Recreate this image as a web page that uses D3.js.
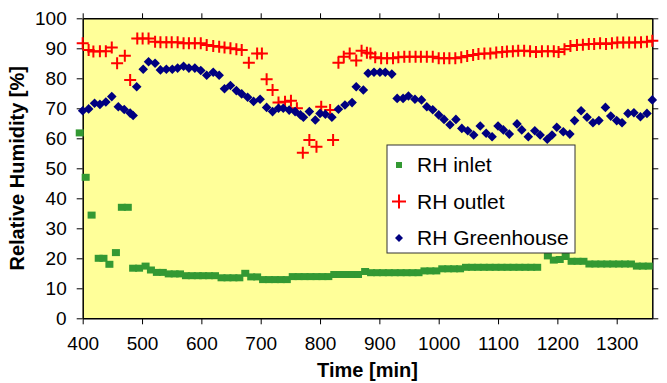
<!DOCTYPE html>
<html>
<head>
<meta charset="utf-8">
<script src="https://cdn.jsdelivr.net/npm/d3@7"></script>
<style>
  body { margin: 0; background: #fff; }
  text { font-family: Arial, "Liberation Sans", sans-serif; }
</style>
</head>
<body>
<div id="chart"></div>
<script>
// tick labels
const xTicks = [400, 500, 600, 700, 800, 900, 1000, 1100, 1200, 1300];
const yTicks = [0, 10, 20, 30, 40, 50, 60, 70, 80, 90, 100];
const seriesNames = ["RH inlet", "RH outlet", "RH Greenhouse"];

// RH inlet
const inletTime = [395, 405, 415, 427, 435, 445, 456, 466, 476, 485, 495, 506, 515, 525, 535, 545, 555, 564,
  574, 584, 594, 603, 613, 623, 634, 644, 654, 664, 674, 684, 694, 704, 714, 724, 734, 744, 754, 764, 774,
  784, 794, 804, 814, 824, 834, 844, 854, 864, 876, 886, 896, 906, 916, 926, 936, 946, 956, 966, 976, 986,
  996, 1006, 1016, 1026, 1036, 1046, 1056, 1066, 1076, 1086, 1096, 1106, 1116, 1126, 1136, 1146, 1156, 1166,
  1184, 1194, 1204, 1214, 1224, 1234, 1244, 1254, 1264, 1274, 1284, 1294, 1304, 1314, 1324, 1334, 1344, 1354];
const inletRH = [61.8, 47, 34.4, 20, 20, 18, 21.9, 37, 37, 16.7, 16.7, 17.4, 16.1, 15.3, 15.3, 14.8, 14.8, 14.8,
  14.2, 14.2, 14.2, 14.2, 14.2, 14.2, 13.5, 13.5, 13.5, 13.5, 15, 13.8, 13.8, 12.9, 12.9, 12.9, 12.9, 12.9, 13.9, 13.9, 13.9,
  13.9, 13.9, 13.9, 13.9, 14.6, 14.6, 14.6, 14.6, 14.6, 15.6, 15.2, 15.2, 15.2, 15.2, 15.2, 15.2, 15.2, 15.2, 15.2, 15.8, 15.8,
  15.8, 16.5, 16.5, 16.5, 16.5, 17, 17, 17, 17, 17, 17, 17, 17, 17, 17, 17, 17, 17,
  20.8, 19.4, 19.6, 20.6, 19, 19, 19, 18.1, 18.1, 18.1, 18.1, 18.1, 18.1, 18.1, 18.1, 17.4, 17.4, 17.4];

// RH outlet
const outletTime = [400, 410, 418, 429, 439, 449, 458, 471, 480, 492, 501, 511, 522, 531, 541, 550, 560, 570,
  579, 589, 599, 609, 620, 630, 639, 649, 659, 668, 680, 694, 702, 710, 720, 730, 741, 751, 761, 771, 782,
  794, 802, 817, 822, 831, 840, 850, 861, 870, 879, 885, 893, 903, 913, 923, 932, 942, 951, 961, 970, 980,
  990, 1000, 1009, 1018, 1028, 1038, 1048, 1058, 1067, 1077, 1087, 1097, 1107, 1115, 1125, 1134, 1144, 1154,
  1164, 1174, 1184, 1194, 1202, 1212, 1222, 1233, 1243, 1253, 1262, 1272, 1282, 1292, 1301, 1311, 1321, 1331,
  1341, 1351, 1360];
const outletRH = [91.7, 89.4, 88.9, 89, 89, 90.3, 85, 87.5, 79.4, 93.3, 93.3, 93.3, 92.2, 92, 92, 92, 92, 91.7,
  91.7, 91.7, 91.7, 91.1, 90.8, 90.5, 90.3, 90, 89.7, 89.4, 85.2, 88.3, 88.3, 79.7, 76.1, 71.9, 72.2, 72.5, 70, 55.2, 59.4,
  57.2, 70.5, 69.4, 59.4, 85.2, 87.2, 88.3, 85.9, 89.2, 88.5, 88.3, 87, 86.7, 86.7, 86.7, 87, 87.2, 87.2, 87.2, 87.2, 87.2,
  87.2, 86.7, 86.7, 86.7, 86.7, 87, 87.4, 87.8, 88.1, 88.3, 88.3, 88.6, 88.8, 88.9, 89, 89.2, 89.2, 89,
  88.8, 89, 89, 89, 88.8, 89.7, 90.8, 91.1, 91.2, 91.4, 91.4, 91.7, 91.4, 91.7, 91.9, 91.9, 91.9, 91.9,
  92, 92.2, 92.5];

// RH Greenhouse
const houseTime = [400, 410, 420, 429, 439, 449, 460, 470, 480, 485, 491, 502, 511, 522, 531, 541, 551, 560,
  570, 579, 589, 599, 609, 620, 630, 639, 649, 659, 668, 678, 688, 699, 710, 720, 730, 738, 748, 758, 767,
  772, 782, 792, 800, 809, 820, 831, 842, 854, 861, 873, 881, 891, 901, 910, 921, 930, 940, 949, 960, 971,
  980, 990, 1000, 1009, 1019, 1029, 1039, 1049, 1059, 1070, 1080, 1090, 1100, 1109, 1119, 1132, 1140, 1151,
  1162, 1171, 1183, 1191, 1199, 1210, 1221, 1229, 1240, 1250, 1260, 1270, 1281, 1290, 1300, 1309, 1319, 1329,
  1340, 1351, 1360];
const houseRH = [69.2, 69.8, 71.7, 71.3, 72.1, 73.9, 70.5, 69.6, 68.4, 67.6, 77.2, 83, 85.5, 85, 82.8, 83, 83, 83.4,
  84, 83.4, 83.4, 82.6, 81, 82, 81, 76.5, 77.6, 75.9, 74.8, 73.7, 72.3, 73, 70.3, 68.9, 70, 70, 69.4, 68.9, 67.8,
  67, 68.9, 66.1, 68.3, 68, 67, 69.7, 71.1, 71.9, 77.2, 76.1, 81.7, 82, 82, 82, 81.4, 73.3, 73.3, 74.1, 73, 72.8,
  70.5, 69.5, 67.8, 66.3, 64.5, 66.3, 63.3, 62.5, 61.1, 64.1, 61.7, 60.5, 64.1, 62.8, 61.4, 64.8, 62.8, 60.5,
  62.5, 61.1, 59.7, 61.1, 63.7, 62.2, 61.4, 65.9, 69.2, 67, 65.2, 65.9, 70.3, 67.4, 65.9, 65.2, 68.3, 68.5,
  67.2, 68.3, 72.8];

const colors = { inlet: "#339933", outlet: "#ff0000", house: "#000080" };

const width = 667, height = 383;
const plot = { left: 82.7, right: 652.3, top: 18.3, bottom: 318.3 };

const svg = d3.select("#chart").append("svg")
    .attr("width", width)
    .attr("height", height);

const x = d3.scaleLinear().domain([400, 1360]).range([plot.left, plot.right]);
const y = d3.scaleLinear().domain([0, 100]).range([plot.bottom, plot.top]);

// plot area background
svg.append("rect")
    .attr("x", plot.left).attr("y", plot.top)
    .attr("width", plot.right - plot.left)
    .attr("height", plot.bottom - plot.top)
    .attr("fill", "#ffff99");

function styleAxis(g, fontSize) {
  g.selectAll("path").attr("stroke", "#000").attr("stroke-width", 1.5);
  g.selectAll("line").attr("stroke", "#000").attr("stroke-width", 1);
  g.selectAll("text")
      .attr("fill", "#000")
      .attr("font-size", fontSize)
      .attr("font-family", "Arial, 'Liberation Sans', sans-serif");
}

// bottom axis
svg.append("g")
    .attr("transform", "translate(0," + plot.bottom + ")")
    .call(d3.axisBottom(x).tickValues(xTicks).tickSize(6).tickSizeOuter(0).tickPadding(12)
      .tickFormat(d3.format("d")))
    .call(g => styleAxis(g, 19));

// top axis, ticks only
svg.append("g")
    .attr("transform", "translate(0," + plot.top + ")")
    .call(d3.axisTop(x).tickValues(xTicks).tickSize(5).tickSizeOuter(0).tickFormat(""))
    .call(g => styleAxis(g, 0));

// left axis
svg.append("g")
    .attr("transform", "translate(" + plot.left + ",0)")
    .call(d3.axisLeft(y).tickValues(yTicks).tickSize(6).tickSizeOuter(0).tickPadding(10))
    .call(g => styleAxis(g, 19));

// right axis, ticks only
svg.append("g")
    .attr("transform", "translate(" + plot.right + ",0)")
    .call(d3.axisRight(y).tickValues(yTicks).tickSize(6).tickSizeOuter(0).tickFormat(""))
    .call(g => styleAxis(g, 0));

// axis titles
svg.append("text")
    .attr("x", (plot.left + plot.right) / 2)
    .attr("y", 377)
    .attr("text-anchor", "middle")
    .attr("font-size", 20)
    .attr("font-weight", "bold")
    .text("Time [min]");

svg.append("text")
    .attr("transform", "translate(24," + (plot.top + plot.bottom) / 2 + ") rotate(-90)")
    .attr("text-anchor", "middle")
    .attr("font-size", 20)
    .attr("font-weight", "bold")
    .text("Relative Humidity [%]");

// markers
const crossPath = "M-6,0H6M0,-6V6";
const diamondPath = "M0,-4.8L4.8,0L0,4.8L-4.8,0Z";

const inlet = inletTime.map((t, i) => ({ t, v: inletRH[i] }));
const outlet = outletTime.map((t, i) => ({ t, v: outletRH[i] }));
const house = houseTime.map((t, i) => ({ t, v: houseRH[i] }));

svg.append("g").selectAll("rect")
    .data(inlet).join("rect")
    .attr("x", d => x(d.t) - 4)
    .attr("y", d => y(d.v) - 3.5)
    .attr("width", 8).attr("height", 7)
    .attr("fill", colors.inlet);

svg.append("g").selectAll("path")
    .data(outlet).join("path")
    .attr("transform", d => "translate(" + x(d.t) + "," + y(d.v) + ")")
    .attr("d", crossPath)
    .attr("fill", "none")
    .attr("stroke", colors.outlet)
    .attr("stroke-width", 2);

svg.append("g").selectAll("path")
    .data(house).join("path")
    .attr("transform", d => "translate(" + x(d.t) + "," + y(d.v) + ")")
    .attr("d", diamondPath)
    .attr("fill", colors.house);

// legend
const legend = svg.append("g").attr("transform", "translate(387,145)");
legend.append("rect")
    .attr("width", 188).attr("height", 108)
    .attr("fill", "#fff")
    .attr("stroke", "#333")
    .attr("stroke-width", 1);

const rows = legend.selectAll("g.item")
    .data(seriesNames).join("g")
    .attr("class", "item")
    .attr("transform", (d, i) => "translate(0," + (20 + i * 36.5) + ")");

rows.append("text")
    .attr("x", 30)
    .attr("dy", "0.35em")
    .attr("font-size", 21)
    .attr("fill", "#000")
    .text(d => d);

rows.filter((d, i) => i === 0).append("rect")
    .attr("x", 9).attr("y", -3).attr("width", 6).attr("height", 6)
    .attr("fill", colors.inlet);
rows.filter((d, i) => i === 1).append("path")
    .attr("transform", "translate(12,0)")
    .attr("d", "M-7,0H7M0,-7V7")
    .attr("stroke", colors.outlet).attr("stroke-width", 2);
rows.filter((d, i) => i === 2).append("path")
    .attr("transform", "translate(12,0)")
    .attr("d", "M0,-4L4,0L0,4L-4,0Z")
    .attr("fill", colors.house);
</script>
</body>
</html>
